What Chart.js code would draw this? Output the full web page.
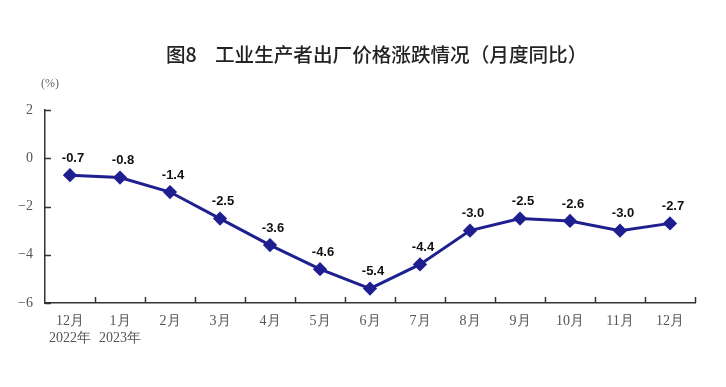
<!DOCTYPE html>
<html><head><meta charset="utf-8">
<script src="https://cdn.jsdelivr.net/npm/chart.js@4.4.0/dist/chart.umd.min.js"></script>
<style>html,body{margin:0;padding:0;background:#fff}#wrap{width:726px;height:387px}</style>
</head><body><div id="wrap"><canvas id="c" width="726" height="387"></canvas></div>
<script>
const categories = [["12月","2022年"],["1月","2023年"],"2月","3月","4月","5月","6月","7月","8月","9月","10月","11月","12月"];
const ppiYoY = [-0.7,-0.8,-1.4,-2.5,-3.6,-4.6,-5.4,-4.4,-3.0,-2.5,-2.6,-3.0,-2.7];
const yTicks = [2,0,-2,-4,-6];
const titleFig = "图8";
const titleText = "工业生产者出厂价格涨跌情况（月度同比）";
const unitText = "(%)";

const extras = {
  id: 'extras',
  afterDraw(chart) {
    const ctx = chart.ctx, x = chart.scales.x, y = chart.scales.y, a = chart.chartArea;
    ctx.save();
    ctx.strokeStyle = '#333'; ctx.lineWidth = 1.5;
    const step = x.getPixelForValue(1) - x.getPixelForValue(0);
    for (let i = 0; i < categories.length; i++) {
      const px = Math.round(x.getPixelForValue(i) + step / 2);
      ctx.beginPath(); ctx.moveTo(px + 0.5, a.bottom); ctx.lineTo(px + 0.5, a.bottom - 6); ctx.stroke();
    }
    yTicks.forEach(v => {
      const py = Math.round(y.getPixelForValue(v));
      ctx.beginPath(); ctx.moveTo(a.left, py + 0.5); ctx.lineTo(a.left + 6, py + 0.5); ctx.stroke();
    });
    ctx.fillStyle = '#111';
    ctx.font = 'bold 13px "Liberation Sans", Arial, sans-serif';
    ctx.textAlign = 'center'; ctx.textBaseline = 'middle';
    const meta = chart.getDatasetMeta(0);
    meta.data.forEach((pt, i) => {
      ctx.fillText(ppiYoY[i].toFixed(1), pt.x + 3, pt.y - 17);
    });
    ctx.fillStyle = '#222';
    ctx.textAlign = 'left';
    ctx.font = '500 19.6px "Noto Sans CJK SC", sans-serif';
    ctx.fillText(titleFig, 166, 55);
    ctx.fillText(titleText, 215, 55);
    ctx.textAlign = 'center';
    ctx.fillStyle = '#666';
    ctx.font = '12px "Liberation Serif", serif';
    ctx.fillText(unitText, 50, 84);
    ctx.restore();
  }
};

new Chart(document.getElementById('c'), {
  type: 'line',
  data: {
    labels: categories,
    datasets: [{
      data: ppiYoY,
      borderColor: '#1f1f8f',
      backgroundColor: '#1f1f8f',
      borderWidth: 3,
      pointStyle: 'rectRot',
      pointRadius: 5,
      pointHoverRadius: 5,
      tension: 0
    }]
  },
  options: {
    responsive: false,
    animation: false,
    events: [],
    layout: { padding: { top: 110, right: 31, bottom: 0, left: 0 } },
    plugins: { legend: { display: false }, tooltip: { enabled: false }, title: { display: false } },
    scales: {
      x: {
        offset: true,
        grid: { display: false, drawTicks: false },
        border: { display: true, color: '#333', width: 1.5 },
        ticks: {
          color: '#555', padding: 10, maxRotation: 0, autoSkip: false,
          font: { family: '"Liberation Serif", serif', size: 14 }
        },
        afterFit(s) { s.height = 84; }
      },
      y: {
        min: -6, max: 2,
        afterBuildTicks(s) { s.ticks = yTicks.map(v => ({ value: v })); },
        grid: { display: false, drawTicks: false },
        border: { display: true, color: '#333', width: 1.5 },
        ticks: {
          color: '#555', padding: 12,
          font: { family: '"Liberation Serif", serif', size: 14 },
          callback: v => (v < 0 ? '\u2212' + Math.abs(v) : String(v))
        },
        afterFit(s) { s.width = 45; }
      }
    }
  },
  plugins: [extras]
});
</script>
</body></html>
